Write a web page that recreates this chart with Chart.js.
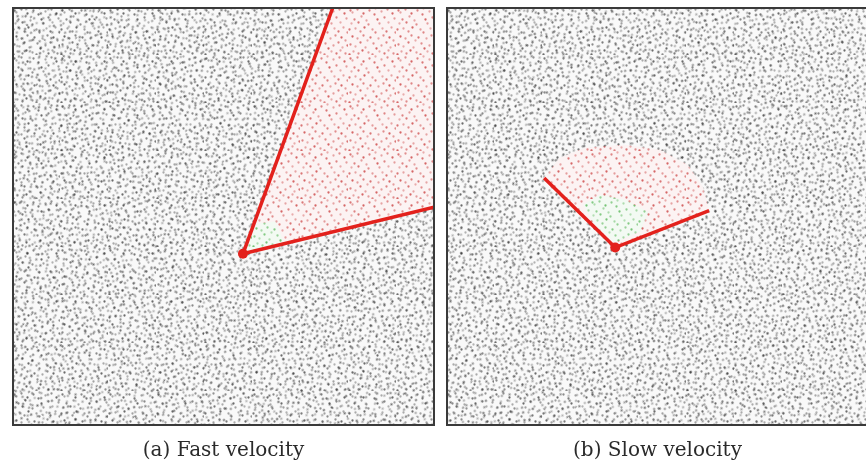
<!DOCTYPE html>
<html>
<head>
<meta charset="utf-8">
<script src="https://cdn.jsdelivr.net/npm/chart.js@4.4.1/dist/chart.umd.min.js"></script>
<style>
  html, body { margin: 0; padding: 0; background: #fff; }
  body { width: 866px; height: 465px; position: relative; overflow: hidden; }
  .panel { position: absolute; top: 7px; width: 423px; height: 458px; }
  #wrapA { left: 12px; }
  #wrapB { left: 446px; }
</style>
</head>
<body>
<div class="panel" id="wrapA"><canvas id="fastChart"></canvas></div>
<div class="panel" id="wrapB"><canvas id="slowChart"></canvas></div>
<script>
// panel (a) - fast velocity, unit square 0..100
const fastApex = [{x: 54.6, y: 41.1}];
const fastEdges = [{x: 75.9, y: 100}, {x: 54.6, y: 41.1}, {x: 100, y: 52.3}];
const fastCone = [{x: 54.6, y: 41.1}, {x: 75.9, y: 100}, {x: 100, y: 100}, {x: 100, y: 52.3}];
const fastNear = [{x: 54.6, y: 41.1}, {x: 57.9, y: 48.3}, {x: 62.2, y: 48.8}, {x: 64.5, y: 43.5}];

// panel (b) - slow velocity
const slowApex = [{x: 40.0, y: 42.6}];
const slowEdges = [{x: 23.2, y: 59.2}, {x: 40.0, y: 42.6}, {x: 62.2, y: 51.4}];
const slowCone = [
    {x: 40.0, y: 42.6}, {x: 23.2, y: 59.2}, {x: 26.9, y: 64.0}, {x: 32.9, y: 66.4},
    {x: 42.3, y: 67.1}, {x: 50.6, y: 65.9}, {x: 57.2, y: 62.3}, {x: 60.8, y: 56.9},
    {x: 62.2, y: 51.4}
];
const slowNear = [
    {x: 32.4, y: 52.8}, {x: 36.4, y: 55.2}, {x: 42.3, y: 54.0}, {x: 47.8, y: 51.1},
    {x: 45.9, y: 46.4}, {x: 40.0, y: 43.8}, {x: 35.2, y: 48.0}
];

const captions = ["(a) Fast velocity", "(b) Slow velocity"];

// hand-placed speckle tile, only used as a texture for the sample field
const speckle = [
    [2,3],[4,5],[9,2],[15,6],[13,9],[21,3],[27,1],[26,7],[33,4],[39,2],[44,6],[46,11],
    [6,12],[3,16],[10,15],[18,13],[20,17],[29,12],[31,16],[36,10],[40,15],
    [1,22],[7,21],[12,24],[16,20],[24,22],[27,25],[34,21],[38,24],[43,20],[47,25],
    [4,29],[9,31],[15,28],[19,33],[22,30],[30,31],[35,28],[41,30],[45,33],
    [2,37],[7,39],[12,35],[17,40],[25,36],[28,41],[33,38],[38,35],[42,40],[47,38],
    [5,44],[10,46],[14,43],[20,45],[24,47],[31,44],[36,46],[40,43],[45,46],[1,47]
];
const shades = [0.8, 0.5, 0.65, 0.9, 0.55, 0.7, 0.45];

function makePattern(bg, rgb, strength, r) {
    const c = document.createElement("canvas");
    c.width = 48; c.height = 48;
    const g = c.getContext("2d");
    if (bg) {
        g.fillStyle = bg;
        g.fillRect(0, 0, 48, 48);
    }
    speckle.forEach(function (p, i) {
        g.fillStyle = "rgba(" + rgb + "," + (shades[i % shades.length] * strength) + ")";
        g.beginPath();
        g.arc(p[0] + 0.5, p[1] + 0.5, r, 0, Math.PI * 2);
        g.fill();
    });
    return g.createPattern(c, "repeat");
}

const grayField = makePattern(null, "40,40,40", 0.75, 1.15);
const redField = makePattern("#fcf3f3", "205,70,70", 0.9, 1.15);
const greenField = makePattern("#f3faf3", "70,175,70", 0.8, 1.15);

const framePlugin = {
    id: "frame",
    beforeDatasetsDraw: function (chart) {
        const a = chart.chartArea, ctx = chart.ctx;
        const w = a.right - a.left, h = a.bottom - a.top;
        ctx.save();
        ctx.beginPath();
        ctx.rect(a.left, a.top, w, h);
        ctx.clip();
        ctx.fillStyle = "#f9f9f9";
        ctx.fillRect(a.left, a.top, w, h);
        ctx.fillStyle = grayField;
        ctx.fillRect(a.left, a.top, w, h);
        // second, turned pass breaks up the tile repetition
        ctx.translate(a.left + w / 2, a.top + h / 2);
        ctx.rotate(0.7);
        ctx.translate(13, 29);
        ctx.fillRect(-700, -700, 1400, 1400);
        ctx.restore();
    },
    afterDraw: function (chart) {
        const a = chart.chartArea, ctx = chart.ctx;
        ctx.save();
        ctx.strokeStyle = "#3a3a3a";
        ctx.lineWidth = 2;
        ctx.strokeRect(a.left + 1, a.top + 1, a.right - a.left - 2, a.bottom - a.top - 2);
        ctx.restore();
    }
};

function makePanel(id, caption, apex, edges, cone, near) {
    const ctx = document.getElementById(id).getContext("2d");
    return new Chart(ctx, {
        type: "scatter",
        data: {
            datasets: [{
                data: apex,
                pointRadius: 5,
                pointBackgroundColor: "#e3211c",
                pointBorderWidth: 0
            }, {
                data: edges,
                showLine: true,
                borderColor: "#e3211c",
                borderWidth: 3.5,
                pointRadius: 0
            }, {
                data: near,
                showLine: true,
                fill: "shape",
                backgroundColor: greenField,
                borderColor: "transparent",
                borderWidth: 0,
                pointRadius: 0
            }, {
                data: cone,
                showLine: true,
                fill: "shape",
                backgroundColor: redField,
                borderColor: "transparent",
                borderWidth: 0,
                pointRadius: 0
            }]
        },
        options: {
            responsive: true,
            maintainAspectRatio: false,
            animation: false,
            layout: { padding: 0, autoPadding: false },
            scales: {
                x: { type: "linear", min: 0, max: 100, display: false },
                y: { type: "linear", min: 0, max: 100, display: false }
            },
            plugins: {
                legend: { display: false },
                tooltip: { enabled: false },
                title: {
                    display: true,
                    position: "bottom",
                    text: caption,
                    color: "#2a2a2a",
                    font: { family: "DejaVu Serif", size: 20, weight: "normal" },
                    padding: { top: 13, bottom: 2 }
                }
            }
        },
        plugins: [framePlugin]
    });
}

makePanel("fastChart", captions[0], fastApex, fastEdges, fastCone, fastNear);
makePanel("slowChart", captions[1], slowApex, slowEdges, slowCone, slowNear);
</script>
</body>
</html>
